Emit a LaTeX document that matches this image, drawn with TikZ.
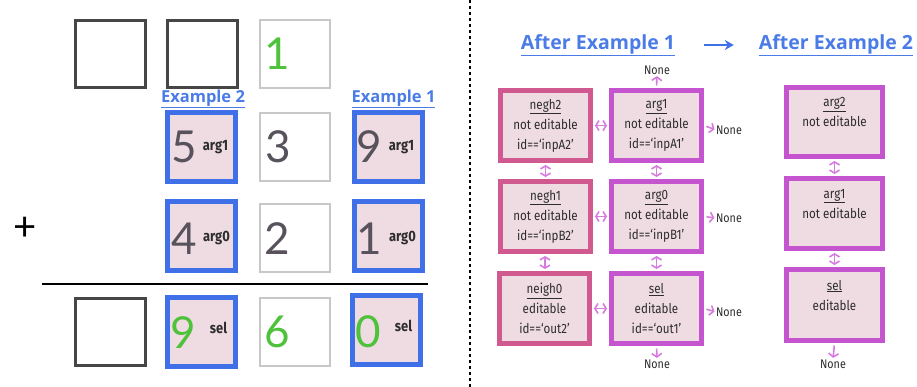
\documentclass[tikz,border=0pt]{standalone}
\usepackage{fontspec}
\setmainfont{Fira Sans}
\newfontfamily\headfont{Open Sans}
\newfontfamily\digitfont{Lato}
\newfontfamily\cellfont{Fira Sans}[FakeStretch=0.86]
\usetikzlibrary{arrows.meta}

\definecolor{exblue}{RGB}{64,112,232}
\definecolor{headblue}{RGB}{74,123,230}
\definecolor{cellpink}{RGB}{239,220,226}
\definecolor{negpink}{RGB}{208,90,144}
\definecolor{argpurple}{RGB}{196,85,207}
\definecolor{linkpurple}{RGB}{215,123,224}
\definecolor{digitgray}{RGB}{88,82,92}
\definecolor{digitgreen}{RGB}{77,194,58}
\definecolor{blankgray}{RGB}{70,70,70}
\definecolor{plaingray}{RGB}{200,200,200}
\definecolor{celltext}{RGB}{45,45,45}

\begin{document}
\begin{tikzpicture}[x=1pt, y=-1pt]
    \tikzset{
        every node/.style={inner sep=0pt},
        blank/.style={draw=blankgray, line width=3pt, minimum width=70pt, minimum height=67pt},
        plain/.style={draw=plaingray, line width=2pt, minimum width=70pt, minimum height=68pt},
        pick/.style={draw=exblue, fill=cellpink, line width=5pt, minimum width=68pt, minimum height=69pt},
        digit/.style={font=\digitfont\fontsize{44}{44}\selectfont, text=digitgray},
        tag/.style={font=\cellfont\bfseries\fontsize{15}{15}\selectfont, text=celltext},
        exlabel/.style={font=\headfont\bfseries\fontsize{16.5}{16.5}\selectfont, text=headblue},
        headlabel/.style={font=\headfont\bfseries\fontsize{19.5}{19.5}\selectfont, text=headblue},
        cell/.style={fill=cellpink, line width=5pt, minimum width=90pt, minimum height=70pt,
            align=center, text=celltext, font=\cellfont\fontsize{13.5}{20}\selectfont},
        negcell/.style={cell, draw=negpink},
        argcell/.style={cell, draw=argpurple},
        none/.style={font=\cellfont\fontsize{12.5}{12.5}\selectfont, text=celltext},
        link/.style={linkpurple, line width=1.6pt, shorten <=2pt, shorten >=2pt,
            {Straight Barb[length=3pt,width=10pt]}-{Straight Barb[length=3pt,width=10pt]}},
        exitlink/.style={linkpurple, line width=1.6pt, shorten <=2.5pt, shorten >=1.5pt,
            -{Straight Barb[length=3.5pt,width=10pt]}},
    }
    \useasboundingbox (0,0) rectangle (917,387);

    % the sum
    \node[blank] (t1) at (110.5,54) {};
    \node[blank] (t2) at (202.5,54) {};
    \node[plain] (t3) at (295,54) {};
    \node[digit, text=digitgreen] (c1) at ([xshift=-18pt]t3.center) {1};

    \node[exlabel] (ex2) at (203,99) {\underline{Example 2}};
    \node[exlabel] (ex1) at (393.5,99) {\underline{Example 1}};

    \node[pick] (b5) at (201.5,147) {};
    \node[digit] (d5) at ([xshift=-17pt]b5.center) {5};
    \node[tag] (g5) at ([xshift=14pt]b5.center) {arg1};
    \node[plain] (b3) at (295,147) {};
    \node[digit] (d3) at ([xshift=-17pt]b3.center) {3};
    \node[pick] (b9) at (388.5,147) {};
    \node[digit] (d9) at ([xshift=-19pt]b9.center) {9};
    \node[tag] (g9) at ([xshift=13pt]b9.center) {arg1};

    \node[font=\digitfont\fontsize{40}{40}\selectfont] (plus) at (25,229) {+};
    \node[pick] (b4) at (201.5,236) {};
    \node[digit] (d4) at ([xshift=-17pt, yshift=-3pt]b4.center) {4};
    \node[tag] (g4) at ([xshift=15pt, yshift=-2pt]b4.center) {arg0};
    \node[plain] (b2) at (295,238) {};
    \node[digit] (d2) at ([xshift=-18pt, yshift=-1pt]b2.center) {2};
    \node[pick] (b1) at (388.5,236) {};
    \node[digit] (d1) at ([xshift=-19pt, yshift=-3pt]b1.center) {1};
    \node[tag] (g1) at ([xshift=14pt, yshift=-2pt]b1.center) {arg0};

    \draw[line width=1.5pt] (42,284) -- (428,284);

    \node[blank] (s0) at (110.5,332) {};
    \node[pick] (s9) at (201.5,332) {};
    \node[digit, text=digitgreen] (e9) at ([xshift=-18pt, yshift=-1pt]s9.center) {9};
    \node[tag] (h9) at ([xshift=17pt, yshift=4pt]s9.center) {sel};
    \node[plain] (s6) at (295,332) {};
    \node[digit, text=digitgreen] (e6) at ([xshift=-18pt]s6.center) {6};
    \node[pick] (s1) at (386.5,330) {};
    \node[digit, text=digitgreen] (e0) at ([xshift=-18pt, yshift=-2pt]s1.center) {0};
    \node[tag] (h0) at ([xshift=17pt, yshift=4pt]s1.center) {sel};

    % divider
    \draw[line width=1.5pt, dash pattern=on 3pt off 3pt] (470,0) -- (470,387);

    % after example 1
    \node[headlabel] (after1) at (598,45) {\underline{After Example 1}};
    \node[headlabel] (after2) at (836,45) {\underline{After Example 2}};
    \draw[exblue, line width=2.4pt, shorten <=29pt, shorten >=25pt, -{Stealth[length=9pt,width=10pt]}]
        (after1) -- (after2);

    \node[negcell] (ng2) at (545.5,125.5) {\underline{negh2}\\not editable\\id==‘inpA2’};
    \node[argcell] (ag1) at (656.5,125.5) {\underline{arg1}\\not editable\\id==‘inpA1’};
    \node[negcell] (ng1) at (545.5,216.5) {\underline{negh1}\\not editable\\id==‘inpB2’};
    \node[argcell] (ag0) at (656.5,216.5) {\underline{arg0}\\not editable\\id==‘inpB1’};
    \node[negcell] (ng0) at (544.5,308.5) {\underline{neigh0}\\editable\\id==‘out2’};
    \node[argcell] (sl) at (656.5,308.5) {\underline{sel}\\editable\\id==‘out1’};

    \node[none] (nt) at (657,70) {None};
    \node[none] (nr1) at (729,130) {None};
    \node[none] (nr0) at (729,218) {None};
    \node[none] (nrs) at (729,312) {None};
    \node[none] (nb) at (657,364) {None};

    \draw[link] (ng2) -- (ag1);
    \draw[link] (ng1) -- (ag0);
    \draw[link] (ng0) -- (sl);
    \draw[link] (ng2) -- (ng1);
    \draw[link] (ng1) -- (ng0);
    \draw[link] (ag1) -- (ag0);
    \draw[link] (ag0) -- (sl);
    \draw[exitlink] (ag1.north) -- (nt.south);
    \draw[exitlink] (ag1.east) -- (nr1.west);
    \draw[exitlink] (ag0.east) -- (nr0.west);
    \draw[exitlink] (sl.east) -- (nrs.west);
    \draw[exitlink] (sl.south) -- (nb.north);

    % after example 2
    \node[argcell, minimum width=96pt, minimum height=69pt] (rg2) at (834.5,122) {\underline{arg2}\\not editable\\\mbox{}};
    \node[argcell, minimum width=96pt, minimum height=70pt] (rg1) at (834.5,213.5) {\underline{arg1}\\not editable\\\mbox{}};
    \node[argcell, minimum width=96pt, minimum height=71pt] (rsl) at (834.5,305) {\underline{sel}\\editable\\\mbox{}};
    \node[none] (rnb) at (833,364) {None};

    \draw[link] (rg2) -- (rg1);
    \draw[link] (rg1) -- (rsl);
    \draw[exitlink] (rsl.south) -- (rnb.north);
\end{tikzpicture}
\end{document}
